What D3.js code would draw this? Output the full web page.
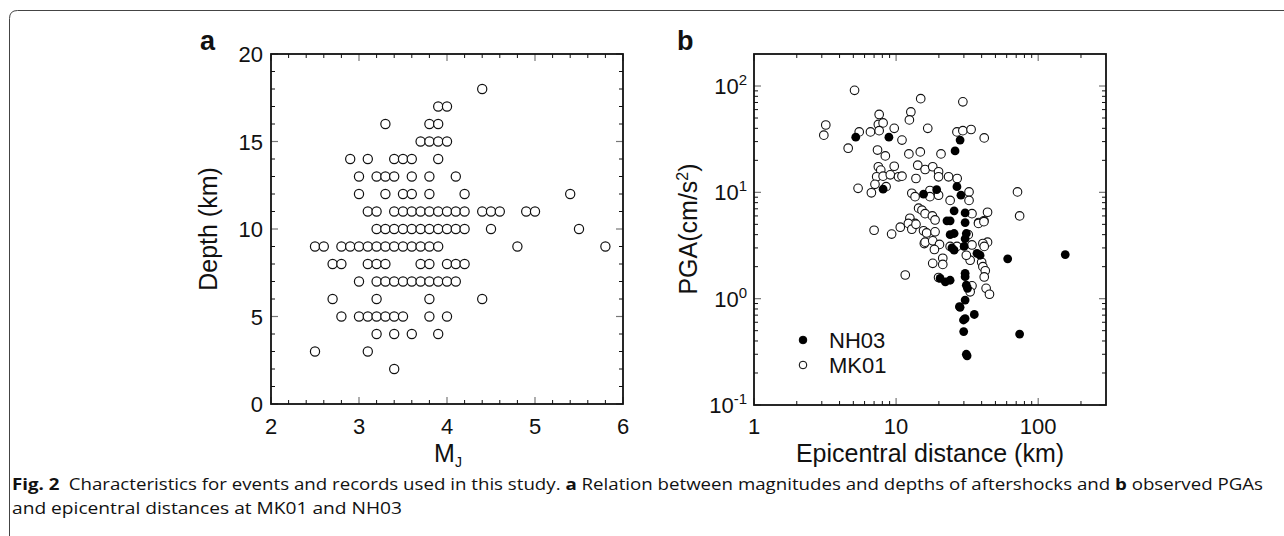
<!DOCTYPE html>
<html>
<head>
<meta charset="utf-8">
<script src="https://cdn.jsdelivr.net/npm/d3@7/dist/d3.min.js"></script>
<style>
  body { margin: 0; background: #fff; }
  text { font-family: 'Liberation Sans', Arial, sans-serif; fill: #111; }
</style>
</head>
<body>
<script>
// panel a: aftershock magnitude (MJ) grouped by depth (km)
const depthRows = [18, 17, 16, 15, 14, 13, 12, 11, 10, 9, 8, 7, 6, 5, 4, 3, 2];
const magRows = [
  [4.4],
  [3.9, 4.0],
  [3.3, 3.8, 3.9],
  [3.7, 3.8, 3.9, 4.0],
  [2.9, 3.1, 3.4, 3.5, 3.6, 3.9],
  [3.0, 3.2, 3.3, 3.4, 3.6, 3.8, 4.1],
  [3.0, 3.3, 3.5, 3.6, 3.8, 4.2, 5.4],
  [3.1, 3.2, 3.4, 3.5, 3.6, 3.7, 3.8, 3.9, 4.0, 4.1, 4.2, 4.4, 4.5, 4.6, 4.9, 5.0],
  [3.2, 3.3, 3.4, 3.5, 3.6, 3.7, 3.8, 3.9, 4.0, 4.1, 4.2, 4.5, 5.5],
  [2.5, 2.6, 2.8, 2.9, 3.0, 3.1, 3.2, 3.3, 3.4, 3.5, 3.6, 3.7, 3.8, 3.9, 4.8, 5.8],
  [2.7, 2.8, 3.1, 3.2, 3.3, 3.7, 3.8, 4.0, 4.1, 4.2],
  [3.0, 3.2, 3.3, 3.4, 3.5, 3.6, 3.7, 3.8, 3.9, 4.0, 4.1],
  [2.7, 3.2, 3.8, 4.4],
  [2.8, 3.0, 3.1, 3.2, 3.3, 3.4, 3.5, 3.8, 4.0],
  [3.2, 3.4, 3.6, 3.9],
  [2.5, 3.1],
  [3.4]
];

// panel b: [epicentral distance km, PGA cm/s2]
const mk01 = [
  [5.1, 91], [14.9, 76], [29.5, 71], [3.2, 43], [3.1, 34.5], [7.6, 54], [7.5, 43.5], [8.1, 45],
  [12.7, 57], [12.4, 48], [16.7, 40], [9.7, 40], [6.6, 37], [7.6, 38], [5.5, 37], [11, 31],
  [26.8, 37], [29.5, 38], [4.6, 26], [7.4, 25], [8.4, 22], [12.3, 23], [14.8, 24], [20.7, 23],
  [7.5, 17.4], [9.7, 17.6], [7.8, 16.2], [14.2, 18], [16, 16.4], [18.1, 17.4], [19.9, 15.6],
  [7.3, 14], [8.1, 14.2], [9.1, 14.6], [10.4, 14], [11, 14.2], [13.8, 13.5], [7.1, 11.9],
  [5.4, 10.9], [6.7, 9.9], [8.5, 11.3], [19.9, 14], [23.4, 14], [26.9, 13.5], [12.9, 9.8],
  [13.6, 9.1], [17.3, 10.4], [17.3, 9.1], [19.9, 9.4], [14.4, 7.1], [15.2, 6.8], [16, 6.3],
  [18, 6], [18.8, 5.5], [24, 8.4], [12.5, 5.7], [13.6, 5.1], [7, 4.4],
  [33.7, 39], [41.7, 32.5], [71.5, 10.1], [32.6, 10.1], [32.6, 8.4], [34.2, 6.3], [44, 6.5],
  [41.5, 5.4], [38.1, 5.2], [74, 6],
  [9.3, 4.05], [10.7, 4.7], [12.2, 5.1], [12.9, 4.5], [13.8, 5], [15.6, 4.35], [16.4, 4.15],
  [18.8, 4.25], [15.8, 3.3], [16, 3.4], [18.1, 3.5], [20.2, 3.24], [18.6, 2.9], [18.1, 2.15],
  [21.3, 2.4], [21.3, 2.1], [19.9, 1.58], [24, 3.1], [26.8, 3.1], [11.6, 1.67],
  [38, 5.1], [41.5, 5.3], [44, 3.4], [40.8, 3.3], [41.7, 3.1], [33.2, 2.3], [40, 2.2],
  [40.8, 2], [42.4, 1.83], [41.7, 1.6], [34.2, 1.32], [33.2, 1.16], [43, 1.25], [45.4, 1.1],
  [32.2, 4], [34.2, 3.2], [31.2, 2.56]
];
const nh03 = [
  [5.2, 33], [8.9, 33], [28.2, 31], [26, 24.5], [8.1, 10.7], [15.6, 9.6], [19.3, 10.6],
  [26.8, 11.3], [28.6, 9.4], [25.6, 6.7], [30.6, 6.4], [22.8, 5.4], [24, 5.4], [30.6, 5.2],
  [24, 4], [25.6, 4.1], [24.7, 3], [25.6, 2.86], [20.4, 1.55], [22.2, 1.44], [24, 1.49],
  [27.9, 0.84], [30.6, 0.65], [29.9, 0.49], [31.2, 0.3], [30.6, 0.97], [31.2, 1.34],
  [30.6, 1.73], [31.2, 4.1], [30.6, 3.66], [30.1, 3.1], [37.1, 2.67], [39, 2.56], [61, 2.37],
  [155, 2.6], [31.8, 1.25], [28.2, 0.83], [29.8, 0.63], [35.5, 0.71], [74, 0.465],
  [31.6, 0.29], [30.6, 1.61]
];

const magTicks = [2, 3, 4, 5, 6];
const depthTicks = [0, 5, 10, 15, 20];
const distTicks = [1, 10, 100];
const pgaExps = [-1, 0, 1, 2];

const W = 1284, H = 536;
const svg = d3.select('body').append('svg').attr('width', W).attr('height', H);

// figure frame (open at right/bottom, rounded top-left corner)
svg.append('path')
  .attr('d', 'M9.5,536 L9.5,18.5 Q9.5,10.5 17.5,10.5 L1284,10.5')
  .attr('fill', 'none').attr('stroke', '#444').attr('stroke-width', 1);

// draws inward ticks on all four sides of a box
function boxTicks (g, x, y, xMajor, xMinor, yMajor, yMinor) {
  const [x0, x1] = x.range();
  const [y0, y1] = y.range(); // y0 bottom, y1 top
  const t = g.append('g');
  function tick (x1_, y1_, x2_, y2_, major) {
    t.append('line')
      .attr('x1', x1_).attr('y1', y1_).attr('x2', x2_).attr('y2', y2_)
      .attr('stroke', major ? '#777' : '#111')
      .attr('stroke-width', major ? 1.2 : 1);
  }
  xMinor.forEach(v => { const p = x(v); tick(p, y0, p, y0 - 4, false); tick(p, y1, p, y1 + 4, false); });
  xMajor.forEach(v => { const p = x(v); tick(p, y0, p, y0 - 7, true); tick(p, y1, p, y1 + 7, true); });
  yMinor.forEach(v => { const p = y(v); tick(x0, p, x0 + 4, p, false); tick(x1, p, x1 - 4, p, false); });
  yMajor.forEach(v => { const p = y(v); tick(x0, p, x0 + 7, p, true); tick(x1, p, x1 - 7, p, true); });
  g.append('rect')
    .attr('x', x0).attr('y', y1).attr('width', x1 - x0).attr('height', y0 - y1)
    .attr('fill', 'none').attr('stroke', '#111').attr('stroke-width', 1.8);
}

/* ---------- panel a ---------- */
const xa = d3.scaleLinear().domain([2, 6]).range([271, 623]);
const ya = d3.scaleLinear().domain([0, 20]).range([404, 54]);
const ga = svg.append('g');

const aPoints = [];
depthRows.forEach((dep, i) => magRows[i].forEach(m => aPoints.push([m, dep])));

ga.selectAll('circle.ev').data(aPoints).join('circle')
  .attr('class', 'ev')
  .attr('cx', d => xa(d[0])).attr('cy', d => ya(d[1])).attr('r', 4.6)
  .attr('fill', '#fff').attr('stroke', '#111').attr('stroke-width', 1.2);

boxTicks(ga, xa, ya, magTicks, d3.range(2, 6.01, 0.2).filter(v => Math.abs(v - Math.round(v)) > 0.01),
  depthTicks, d3.range(0, 21).filter(v => v % 5));

ga.selectAll('text.xl').data(magTicks).join('text')
  .attr('class', 'xl').attr('x', d => xa(d)).attr('y', 434)
  .attr('text-anchor', 'middle').attr('font-size', 22).text(d => d);
ga.selectAll('text.yl').data(depthTicks).join('text')
  .attr('class', 'yl').attr('x', 263).attr('y', d => ya(d) + 8)
  .attr('text-anchor', 'end').attr('font-size', 22).text(d => d);

const mt = ga.append('text').attr('x', 448).attr('y', 462).attr('text-anchor', 'middle').attr('font-size', 25);
mt.append('tspan').text('M');
mt.append('tspan').attr('dy', 5).attr('font-size', 14).text('J');

ga.append('text')
  .attr('transform', 'translate(217,229) rotate(-90)')
  .attr('text-anchor', 'middle').attr('font-size', 25).text('Depth (km)');

ga.append('text').attr('x', 200).attr('y', 50).attr('font-size', 27).attr('font-weight', 'bold').text('a');

/* ---------- panel b ---------- */
const xb = d3.scaleLog().domain([1, 300]).range([754, 1106]);
const yb = d3.scaleLog().domain([0.1, 200]).range([405, 54]);
const gb = svg.append('g');

gb.selectAll('circle.mk').data(mk01).join('circle')
  .attr('class', 'mk')
  .attr('cx', d => xb(d[0])).attr('cy', d => yb(d[1])).attr('r', 4.3)
  .attr('fill', '#fff').attr('stroke', '#111').attr('stroke-width', 1.1);
gb.selectAll('circle.nh').data(nh03).join('circle')
  .attr('class', 'nh')
  .attr('cx', d => xb(d[0])).attr('cy', d => yb(d[1])).attr('r', 4.4)
  .attr('fill', '#000');

const xbMinor = [2, 3, 4, 5, 6, 7, 8, 9, 20, 30, 40, 50, 60, 70, 80, 90, 200];
const ybMinor = [];
[0.1, 1, 10, 100].forEach(b => [2, 3, 4, 5, 6, 7, 8, 9].forEach(k => { if (b * k < 200) ybMinor.push(b * k); }));
boxTicks(gb, xb, yb, distTicks, xbMinor, pgaExps.map(e => Math.pow(10, e)), ybMinor);

gb.selectAll('text.xl').data(distTicks).join('text')
  .attr('class', 'xl').attr('x', d => xb(d)).attr('y', 434)
  .attr('text-anchor', 'middle').attr('font-size', 22).text(d => d);

pgaExps.forEach(e => {
  const t = gb.append('text').attr('x', 747).attr('y', yb(Math.pow(10, e)) + 8)
    .attr('text-anchor', 'end').attr('font-size', 22);
  t.append('tspan').text('10');
  t.append('tspan').attr('dy', -9).attr('font-size', 15).text(e);
});

gb.append('text').attr('x', xb(Math.sqrt(300))).attr('y', 462)
  .attr('text-anchor', 'middle').attr('font-size', 25).text('Epicentral distance (km)');

const pt = gb.append('text')
  .attr('transform', 'translate(697,229) rotate(-90)')
  .attr('text-anchor', 'middle').attr('font-size', 25);
pt.append('tspan').text('PGA(cm/s');
pt.append('tspan').attr('dy', -9).attr('font-size', 16).text('2');
pt.append('tspan').attr('dy', 9).text(')');

gb.append('text').attr('x', 677).attr('y', 50).attr('font-size', 27).attr('font-weight', 'bold').text('b');

// legend
const legend = [{ name: 'NH03', fill: '#000' }, { name: 'MK01', fill: '#fff' }];
const lg = gb.selectAll('g.lg').data(legend).join('g')
  .attr('class', 'lg').attr('transform', (d, i) => `translate(803,${340 + i * 25})`);
lg.append('circle').attr('r', 3.8).attr('fill', d => d.fill).attr('stroke', '#000').attr('stroke-width', 1);
lg.append('text').attr('x', 26).attr('y', 8).attr('font-size', 22).text(d => d.name);

/* ---------- caption ---------- */
const cap = svg.append('g');
const c1 = cap.append('text').attr('x', 12).attr('y', 490).attr('font-size', 16)
  .attr('textLength', 1251).attr('lengthAdjust', 'spacingAndGlyphs')
  .style('font-family', "'Open Sans', 'Noto Sans', sans-serif");
c1.append('tspan').attr('font-weight', 'bold').text('Fig. 2');
c1.append('tspan').text('\u2002Characteristics for events and records used in this study. ');
c1.append('tspan').attr('font-weight', 'bold').text('a');
c1.append('tspan').text(' Relation between magnitudes and depths of aftershocks and ');
c1.append('tspan').attr('font-weight', 'bold').text('b');
c1.append('tspan').text(' observed PGAs');
cap.append('text').attr('x', 12).attr('y', 514).attr('font-size', 16)
  .attr('textLength', 390).attr('lengthAdjust', 'spacingAndGlyphs')
  .style('font-family', "'Open Sans', 'Noto Sans', sans-serif")
  .text('and epicentral distances at MK01 and NH03');
</script>
</body>
</html>
